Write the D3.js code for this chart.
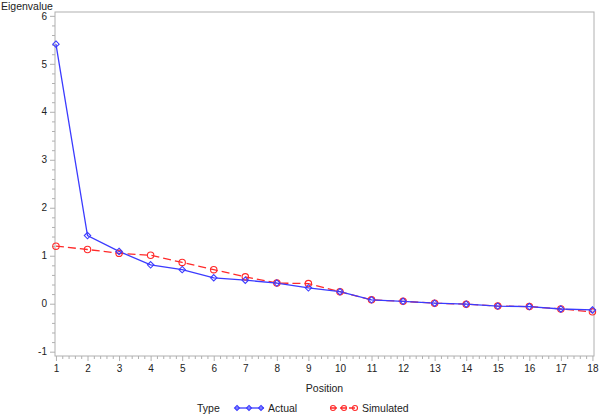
<!DOCTYPE html>
<html><head><meta charset="utf-8">
<script src="https://cdn.jsdelivr.net/npm/d3@7"></script>
<style>body{margin:0;background:#fff}svg{display:block;font-family:"Liberation Sans",Arial,sans-serif}</style>
</head><body><svg id="c" width="600" height="416"></svg>
<script>
const positions = [1,2,3,4,5,6,7,8,9,10,11,12,13,14,15,16,17,18];
const actual    = [5.41,1.42,1.09,0.81,0.71,0.54,0.49,0.43,0.33,0.25,0.08,0.05,0.01,-0.01,-0.05,-0.06,-0.11,-0.13];
const simulated = [1.20,1.13,1.05,1.01,0.86,0.71,0.56,0.43,0.42,0.25,0.08,0.05,0.01,-0.01,-0.05,-0.06,-0.11,-0.17];
const yTicks = [-1,0,1,2,3,4,5,6];
const xTicks = positions;

const svg = d3.select("#c");
const L=55, R=594, T=12, B=356;
const x = d3.scaleLinear().domain([0.97,18.05]).range([L,R]);
const y = d3.scaleLinear().domain([-1.09,6.08]).range([B,T]);
const grey="#b0b0b0";

svg.append("rect").attr("x",L).attr("y",T).attr("width",R-L).attr("height",B-T)
  .attr("fill","none").attr("stroke",grey).attr("stroke-width",1);

const fmt = d => String(d);
const yMinor = d3.range(-1,6.001,0.2).filter(v=>Math.abs(v-Math.round(v))>1e-6);
const xMinor = d3.range(1,18.001,0.2).filter(v=>Math.abs(v-Math.round(v))>1e-6);
svg.append("g").attr("transform",`translate(${L},0)`).call(d3.axisLeft(y).tickValues(yMinor).tickSize(3).tickFormat(""));
const yAx = svg.append("g").attr("transform",`translate(${L},0)`).call(d3.axisLeft(y).tickValues(yTicks).tickSize(5).tickFormat(fmt));
svg.append("g").attr("transform",`translate(0,${B})`).call(d3.axisBottom(x).tickValues(xMinor).tickSize(3).tickFormat(""));
const xAx = svg.append("g").attr("transform",`translate(0,${B})`).call(d3.axisBottom(x).tickValues(xTicks).tickSize(5).tickFormat(fmt));
svg.selectAll(".domain").remove();
svg.selectAll(".tick line").attr("stroke",grey);
svg.selectAll(".tick text").attr("fill","#222").style("font-size","10px");
yAx.selectAll(".tick text").attr("x",-8);
xAx.selectAll(".tick text").attr("y",9);

svg.append("text").attr("x",1).attr("y",10).text("Eigenvalue").style("font-size","10.5px").attr("fill","#222");
svg.append("text").attr("x",(L+R)/2).attr("y",392).attr("text-anchor","middle").text("Position").style("font-size","10.5px").attr("fill","#222");

const blue="#3b3bff", red="#ff2a2a";
const line = d3.line().x((d,i)=>x(positions[i])).y(d=>y(d));
svg.append("path").datum(simulated).attr("d",line).attr("fill","none").attr("stroke",red).attr("stroke-width",1.3).attr("stroke-dasharray","8,4");
svg.append("path").datum(actual).attr("d",line).attr("fill","none").attr("stroke",blue).attr("stroke-width",1.3);

function drawSim(g,r){ g.append("circle").attr("r",r).attr("fill","none").attr("stroke",red).attr("stroke-width",1.1); }
function drawAct(g,s){ g.append("path").attr("d",`M0,${-s}L${s},0L0,${s}L${-s},0Z`).attr("fill","none").attr("stroke",blue).attr("stroke-width",1.1); }
simulated.forEach((v,i)=>drawSim(svg.append("g").attr("transform",`translate(${x(positions[i])},${y(v)})`),3.2));
actual.forEach((v,i)=>drawAct(svg.append("g").attr("transform",`translate(${x(positions[i])},${y(v)})`),3.2));

// legend
const ly=408;
svg.append("text").attr("x",197).attr("y",ly+4).text("Type").style("font-size","10.5px").attr("fill","#222");
svg.append("line").attr("x1",235).attr("x2",264).attr("y1",ly).attr("y2",ly).attr("stroke",blue).attr("stroke-width",1.3);
[237,249,261].forEach(px=>drawAct(svg.append("g").attr("transform",`translate(${px},${ly})`),2.5));
svg.append("text").attr("x",268).attr("y",ly+4).text("Actual").style("font-size","10.5px").attr("fill","#222");
svg.append("line").attr("x1",331).attr("x2",357).attr("y1",ly).attr("y2",ly).attr("stroke",red).attr("stroke-width",1.3).attr("stroke-dasharray","6,3");
[333,344,355].forEach(px=>drawSim(svg.append("g").attr("transform",`translate(${px},${ly})`),2.5));
svg.append("text").attr("x",362).attr("y",ly+4).text("Simulated").style("font-size","10.5px").attr("fill","#222");
</script></body></html>
